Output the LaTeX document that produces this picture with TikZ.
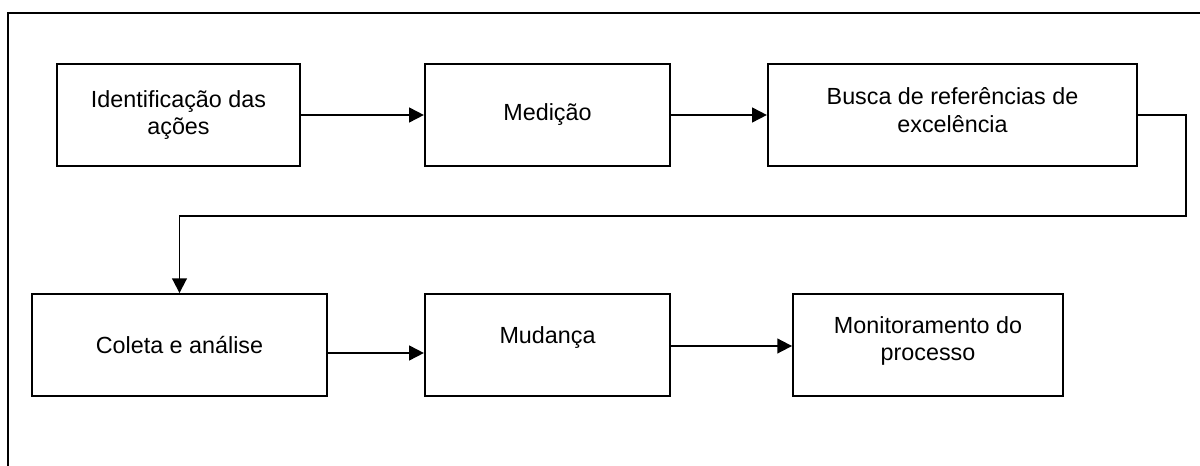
\documentclass[tikz,border=0pt]{standalone}
\usepackage{fontspec}
\setmainfont{Liberation Sans}
\usetikzlibrary{arrows.meta,calc}
\begin{document}
\begin{tikzpicture}[x=0.75pt,y=-0.75pt,
  line width=1.4pt,
  stepbox/.style={draw,rectangle,minimum height=76.5pt,inner sep=0pt,align=center,
    font=\fontsize{17.5}{20.5}\selectfont},
  flow/.style={-{Triangle[length=11pt,width=11pt]}}]
\useasboundingbox (0,0) rectangle (1200,466);
% outer frame (right and bottom edges lie past the page)
\draw (8,470) -- (8,13) -- (1205,13);

% first row
\node[stepbox,minimum width=182pt] (b1) at (178.5,115) {Identificação das\\ações};
\node[stepbox,minimum width=184pt] (b2) at (547.5,115) {Medição};
\node[stepbox,minimum width=277pt] (b3) at (952.5,115) {};
\node[font=\fontsize{17.5}{20.5}\selectfont,align=center] (t3) at (952.5,110) {Busca de referências de\\excelência};

% second row
\node[stepbox,minimum width=221pt] (b4) at (179.5,345) {Coleta e análise};
\node[stepbox,minimum width=184pt] (b5) at (547.5,345) {};
\node[font=\fontsize{17.5}{20.5}\selectfont] (t5) at (547.5,338) {Mudança};
\node[stepbox,minimum width=202.5pt] (b6) at (928,345) {};
\node[font=\fontsize{17.5}{20.5}\selectfont,align=center] (t6) at (928,341) {Monitoramento do\\processo};

% connectors
\coordinate (c1) at (1186,216);
\coordinate (c2) at (179.5,216);
\draw[flow] (b1) -- (b2);
\draw[flow] (b2) -- (b3);
\draw[flow] (b3.east) -| (c1) -- (c2) -- (b4.north);
\draw[flow] ([yshift=-6pt]b4.east) -- ([yshift=-6pt]b5.west);
\draw[flow] ([yshift=-0.75pt]b5.east) -- ([yshift=-0.75pt]b6.west);
\end{tikzpicture}
\end{document}
